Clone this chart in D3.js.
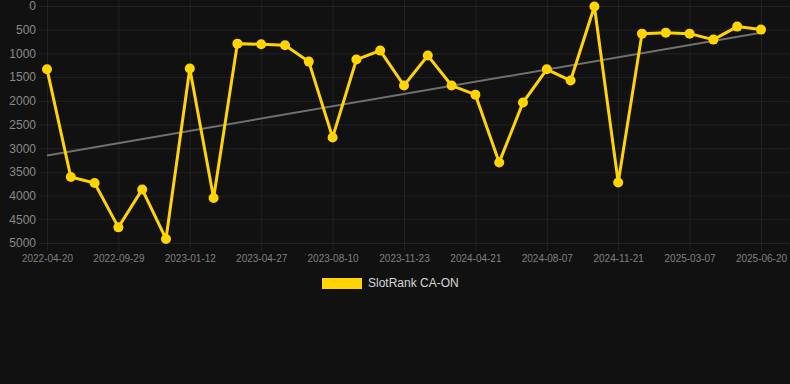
<!DOCTYPE html>
<html>
<head>
<meta charset="utf-8">
<script src="https://cdn.jsdelivr.net/npm/d3@7"></script>
<style>
    html, body { margin: 0; padding: 0; background: #111111; }
    svg { display: block; font-family: "Liberation Sans", Arial, Helvetica, sans-serif; }
</style>
</head>
<body>
<main></main>
<script>
const dates = [
    "2022-04-20", "2022-06-15", "2022-08-10", "2022-09-29", "2022-11-03", "2022-12-08",
    "2023-01-12", "2023-02-16", "2023-03-23", "2023-04-27", "2023-06-01", "2023-07-06",
    "2023-08-10", "2023-09-14", "2023-10-19", "2023-11-23", "2024-01-10", "2024-03-01",
    "2024-04-21", "2024-05-26", "2024-07-01", "2024-08-07", "2024-09-11", "2024-10-16",
    "2024-11-21", "2024-12-26", "2025-01-30", "2025-03-07", "2025-04-11", "2025-05-16",
    "2025-06-20"
];
const ranks = [
    1333, 3609, 3735, 4670, 3870, 4915,
    1320, 4051, 794, 808, 829, 1173,
    2774, 1130, 941, 1678, 1046, 1678,
    1870, 3300, 2036, 1335, 1573, 10,
    3722, 583, 562, 583, 709, 435,
    498
];
const yTicks = [0, 500, 1000, 1500, 2000, 2500, 3000, 3500, 4000, 4500, 5000];
const seriesName = "SlotRank CA-ON";

const width = 790;
const height = 384;
const lineColor = "#ffd400";

const createCanvas = () => {
    return d3.select("main")
             .append("svg")
             .attr("width", width)
             .attr("height", height);
};

const calculateScales = () => {
    const xScale = d3.scalePoint()
                     .domain(dates)
                     .range([47, 761]);
    const yScale = d3.scaleLinear()
                     .domain([0, 5000])
                     .range([6, 243]);
    return {xScale, yScale};
};

// least squares fit over the category index
const trendLine = () => {
    const n = ranks.length;
    const mx = d3.mean(ranks, (d, i) => i);
    const my = d3.mean(ranks);
    let num = 0, den = 0;
    ranks.forEach((d, i) => {
        num += (i - mx) * (d - my);
        den += (i - mx) * (i - mx);
    });
    const slope = num / den;
    return [0, n - 1].map(i => [i, my + slope * (i - mx)]);
};

const createAxes = (scales, svg) => {
    const yAxis = svg.append("g")
       .attr("transform", "translate(47,0)")
       .call(d3.axisLeft(scales.yScale)
               .tickValues(yTicks)
               .tickSize(8)
               .tickPadding(3)
               .tickFormat(d => d));
    yAxis.select(".domain").remove();
    yAxis.selectAll(".tick line")
         .attr("x2", width - 47)
         .attr("x1", -8)
         .attr("stroke", "rgba(255,255,255,0.07)");
    yAxis.selectAll(".tick text")
         .attr("fill", "#8a8a8a")
         .attr("font-size", 12)
         .attr("font-family", "Liberation Sans, Arial, sans-serif");

    const shown = dates.filter((d, i) => i % 3 === 0);
    const xAxis = svg.append("g")
       .attr("transform", "translate(0,243)")
       .call(d3.axisBottom(scales.xScale)
               .tickValues(shown)
               .tickSize(8)
               .tickPadding(4));
    xAxis.select(".domain").remove();
    xAxis.selectAll(".tick line")
         .attr("y1", -243)
         .attr("y2", 8)
         .attr("stroke", "rgba(255,255,255,0.07)");
    xAxis.selectAll(".tick text")
         .attr("fill", "#808080")
         .attr("font-size", 10)
         .attr("font-family", "Liberation Sans, Arial, sans-serif");
};

const createSeries = (scales, svg) => {
    const trend = trendLine();
    svg.append("line")
       .attr("x1", scales.xScale(dates[trend[0][0]]))
       .attr("y1", scales.yScale(trend[0][1]))
       .attr("x2", scales.xScale(dates[trend[1][0]]))
       .attr("y2", scales.yScale(trend[1][1]))
       .attr("stroke", "#707070")
       .attr("stroke-width", 2);

    const line = d3.line()
                   .x((d, i) => scales.xScale(dates[i]))
                   .y(d => scales.yScale(d));
    svg.append("path")
       .datum(ranks)
       .attr("d", line)
       .attr("fill", "none")
       .attr("stroke", lineColor)
       .attr("stroke-width", 3)
       .attr("stroke-linejoin", "miter");

    svg.selectAll("circle.pt")
       .data(ranks)
       .enter()
       .append("circle")
       .attr("class", "pt")
       .attr("cx", (d, i) => scales.xScale(dates[i]))
       .attr("cy", d => scales.yScale(d))
       .attr("r", 5)
       .attr("fill", lineColor);
};

const createLegend = (svg) => {
    svg.append("rect")
       .attr("x", 322)
       .attr("y", 278)
       .attr("width", 40)
       .attr("height", 11)
       .attr("fill", lineColor);
    svg.append("text")
       .attr("x", 368)
       .attr("y", 284)
       .attr("dominant-baseline", "middle")
       .attr("fill", "#d8d8d8")
       .attr("font-size", 12)
       .text(seriesName);
};

const driver = () => {
    const svg = createCanvas();
    const scales = calculateScales();
    createAxes(scales, svg);
    createSeries(scales, svg);
    createLegend(svg);
};

driver();
</script>
</body>
</html>
